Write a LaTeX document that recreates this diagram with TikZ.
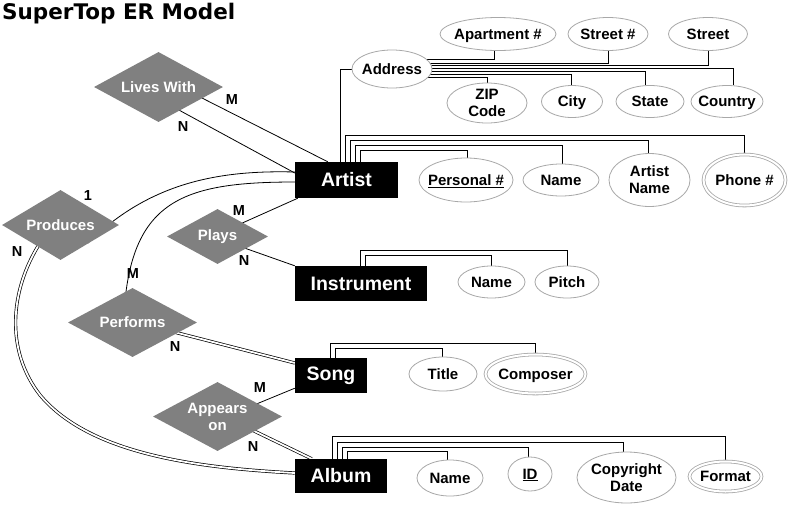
\documentclass[tikz,border=0pt]{standalone}
\usepackage{fontspec}
\setmainfont{Liberation Sans}
\newfontfamily\titlefont{DejaVu Sans}
\usetikzlibrary{shapes.geometric,backgrounds}
\definecolor{relgray}{HTML}{808080}
\definecolor{attrgray}{HTML}{A8A8A8}
\newcommand{\zbx}[1]{\makebox[0pt]{#1}}
\begin{document}
\begin{tikzpicture}[x=1pt,y=-1pt,
  ent/.style={rectangle,fill=black,text=white,inner sep=0pt,font=\fontsize{19.5}{22}\selectfont\bfseries},
  rel/.style={diamond,aspect=2,fill=relgray,text=white,inner sep=0pt,align=center,font=\fontsize{15}{17}\selectfont\bfseries},
  attr/.style={ellipse,draw=attrgray,line width=0.8pt,fill=white,inner sep=0pt,align=center,font=\fontsize{15}{17}\selectfont\bfseries},
  attr1/.style={attr,text depth=0pt},
  mattr/.style={attr1,double=white,double distance=2pt},
  card/.style={inner sep=0pt,font=\fontsize{14.5}{16}\selectfont\bfseries},
  conn/.style={draw=black,line width=0.8pt},
  dconn/.style={draw=black,line width=0.7pt,double=white,double distance=1.8pt},
]
\useasboundingbox (0,0) rectangle (793,504);

% title
\node[anchor=base west,inner sep=0pt,font=\titlefont\fontsize{21.5}{24}\selectfont\bfseries] (title) at (2,19) {SuperTop ER Model};

% entities
\node[ent,minimum width=103pt,minimum height=36pt] (Artist) at (346.5,180) {Artist};
\node[ent,minimum width=132pt,minimum height=35pt] (Instrument) at (361,283.5) {Instrument};
\node[ent,minimum width=72pt,minimum height=35pt] (Song) at (331,375.5) {Song};
\node[ent,minimum width=92pt,minimum height=34pt] (Album) at (341,476) {Album};

% relationships
\node[rel,minimum width=129pt,minimum height=70pt] (Lives) at (158.5,87) {Lives With};
\node[rel,minimum width=117pt,minimum height=70pt] (Produces) at (60.5,225) {Produces};
\node[rel,minimum width=101pt,minimum height=55pt] (Plays) at (217.5,236.5) {Plays};
\node[rel,minimum width=129pt,minimum height=69pt] (Performs) at (132.5,322.5) {Performs};
\node[rel,minimum width=129pt,minimum height=69pt] (Appears) at (217.5,416.5) {Appears\\on};

% address attributes
\node[attr1,minimum width=80pt,minimum height=38pt] (Address) at (392,69) {\zbx{Address}};
\node[attr1,minimum width=116pt,minimum height=33pt] (Apt) at (498,34) {\zbx{Apartment \#}};
\node[attr1,minimum width=80pt,minimum height=33pt] (StreetNo) at (608,34) {\zbx{Street \#}};
\node[attr1,minimum width=79pt,minimum height=33pt] (Street) at (708,34) {\zbx{Street}};
\node[attr,minimum width=80pt,minimum height=40pt] (ZIP) at (487,103) {\zbx{ZIP}\\\zbx{Code}};
\node[attr1,minimum width=61pt,minimum height=32pt] (City) at (572,101.5) {\zbx{City}};
\node[attr1,minimum width=68pt,minimum height=32pt] (State) at (650,101.5) {\zbx{State}};
\node[attr1,minimum width=72pt,minimum height=32pt] (Country) at (727,101.5) {\zbx{Country}};

% artist attributes
\node[attr1,minimum width=94pt,minimum height=44pt] (Pers) at (466,180) {\zbx{\underline{Personal \#}}};
\node[attr1,minimum width=76pt,minimum height=32pt] (ArName) at (561,180) {\zbx{Name}};
\node[attr,minimum width=81pt,minimum height=53pt] (ArtName) at (649.5,180) {\zbx{Artist}\\\zbx{Name}};
\node[mattr,minimum width=82pt,minimum height=51pt] (Phone) at (744.5,180) {\zbx{Phone \#}};

% instrument attributes
\node[attr1,minimum width=67pt,minimum height=32pt] (InName) at (491.5,282) {\zbx{Name}};
\node[attr1,minimum width=64pt,minimum height=32pt] (Pitch) at (567,282) {\zbx{Pitch}};

% song attributes
\node[attr1,minimum width=68pt,minimum height=34pt] (Title) at (443,374) {\zbx{Title}};
\node[mattr,minimum width=100pt,minimum height=39pt] (Composer) at (535.5,374) {\zbx{Composer}};

% album attributes
\node[attr1,minimum width=66pt,minimum height=36pt] (AlName) at (450,478) {\zbx{Name}};
\node[attr1,minimum width=44pt,minimum height=34pt] (ID) at (530,474) {\zbx{\underline{ID}}};
\node[attr,minimum width=99pt,minimum height=51pt] (Copy) at (626.5,477.5) {\zbx{Copyright}\\\zbx{Date}};
\node[mattr,minimum width=72pt,minimum height=30pt] (Format) at (725.5,476.5) {\zbx{Format}};

% cardinalities
\node[card] (cLM) at (232,100) {M};
\node[card] (cLN) at (183,127) {N};
\node[card] (cP1) at (88,196) {1};
\node[card] (cPN) at (17,252) {N};
\node[card] (cPlM) at (239,211) {M};
\node[card] (cPlN) at (244,261) {N};
\node[card] (cPfM) at (133,274) {M};
\node[card] (cPfN) at (175,347) {N};
\node[card] (cAM) at (260,388) {M};
\node[card] (cAN) at (253,447) {N};

\begin{pgfonlayer}{background}
\fill[white] (0,0) rectangle (793,504);

% artist attribute connectors
\draw[conn] ([xshift=46pt]Artist.north west) |- (Address.west);
\draw[conn] ([xshift=51pt]Artist.north west) |- ([yshift=18.5pt]Phone.north) -- (Phone.north);
\draw[conn] ([xshift=56pt]Artist.north west) |- ([xshift=-1.5pt,yshift=12.5pt]ArtName.north) -- ([xshift=-1.5pt]ArtName.north);
\draw[conn] ([xshift=61pt]Artist.north west) |- ([xshift=1pt,yshift=18pt]ArName.north) -- ([xshift=1pt]ArName.north);
\draw[conn] ([xshift=66pt]Artist.north west) |- ([xshift=1pt,yshift=7pt]Pers.north) -- ([xshift=1pt]Pers.north);

% address sub-attribute connectors
\draw[conn] ([yshift=10pt]Address.center) -| ([xshift=-4pt]Apt.south);
\draw[conn] ([yshift=6pt]Address.center) -| (StreetNo.south);
\draw[conn] ([yshift=4pt]Address.center) -| (Street.south);
\draw[conn] ([yshift=1pt]Address.center) -| ([xshift=6pt]Country.north);
\draw[conn] ([yshift=-2pt]Address.center) -| ([xshift=-5pt]State.north);
\draw[conn] ([yshift=-5pt]Address.center) -| ([xshift=-1pt]City.north);
\draw[conn] ([yshift=-8pt]Address.center) -| (ZIP.north);

% instrument
\draw[conn] ([xshift=66pt]Instrument.north west) |- ([yshift=15pt]Pitch.north) -- (Pitch.north);
\draw[conn] ([xshift=71pt]Instrument.north west) |- ([yshift=10pt]InName.north) -- (InName.north);

% song
\draw[conn] ([xshift=36pt]Song.north west) |- ([yshift=10.5pt]Composer.north) -- (Composer.north);
\draw[conn] ([xshift=41pt]Song.north west) |- ([xshift=-1pt,yshift=8pt]Title.north) -- ([xshift=-1pt]Title.north);

% album
\draw[conn] ([xshift=38pt]Album.north west) |- ([yshift=24.5pt]Format.north) -- (Format.north);
\draw[conn] ([xshift=43pt]Album.north west) |- ([xshift=-3pt,yshift=9pt]Copy.north) -- ([xshift=-3pt]Copy.north);
\draw[conn] ([xshift=48pt]Album.north west) |- ([xshift=-2pt,yshift=9pt]ID.north) -- ([xshift=-2pt]ID.north);
\draw[conn] ([xshift=53pt]Album.north west) |- ([xshift=-3pt,yshift=8pt]AlName.north) -- ([xshift=-3pt]AlName.north);

% relationship connectors
\draw[conn] ([xshift=40.5pt,yshift=-9.5pt]Lives.center) -- ([xshift=33pt]Artist.north west);
\draw[conn] ([xshift=18.5pt,yshift=-22pt]Lives.center) -- ([yshift=7pt]Artist.west);
\draw[conn] ([xshift=27.5pt,yshift=-18pt]Produces.center) .. controls (150,182) and (220,170) .. ([yshift=8pt]Artist.west);
\draw[conn] ([xshift=-9.5pt,yshift=-26.5pt]Performs.center) .. controls (122,205) and (170,182) .. ([yshift=-2pt]Artist.west);
\draw[conn] ([xshift=21.5pt,yshift=12pt]Plays.center) -- ([xshift=3pt]Artist.south west);
\draw[conn] ([xshift=25.5pt,yshift=-11pt]Plays.center) -- (Instrument.north west);
\draw[dconn] ([xshift=39.5pt,yshift=-9pt]Performs.center) -- ([yshift=12.5pt]Song.west);
\draw[conn] ([xshift=36.5pt,yshift=11.5pt]Appears.center) -- ([yshift=5pt]Song.south west);
\draw[dconn] ([xshift=33.5pt,yshift=-13pt]Appears.center) -- ([xshift=17pt]Album.north west);
\draw[dconn] ([xshift=-20.5pt,yshift=-18pt]Produces.center) .. controls (10,290) and (5,350) .. (40,395) .. controls (90,455) and (200,468) .. ([yshift=3pt]Album.west);
\end{pgfonlayer}
\end{tikzpicture}
\end{document}
